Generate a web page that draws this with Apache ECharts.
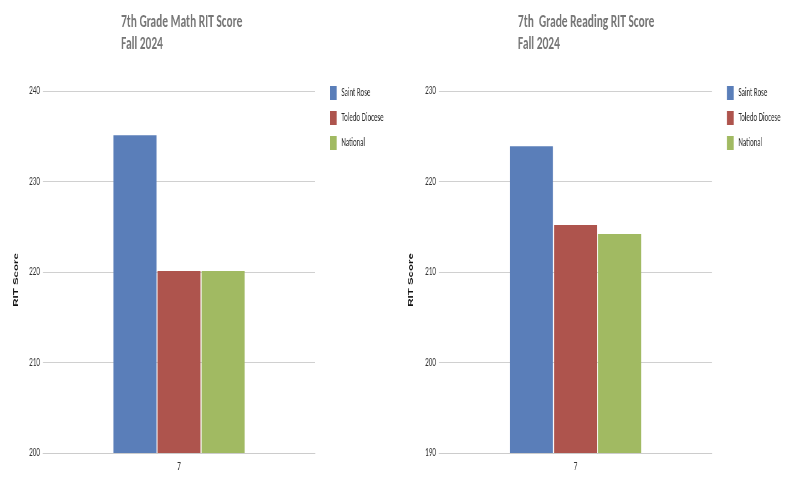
<!DOCTYPE html>
<html>
<head>
<meta charset="utf-8">
<script src="https://cdn.jsdelivr.net/npm/echarts@6/dist/echarts.min.js"></script>
<style>
html,body{margin:0;padding:0;background:#fff;overflow:hidden;}
#wrap{width:790px;height:483px;overflow:hidden;position:relative;}
#c{width:1317px;height:483px;transform:scaleX(0.6);transform-origin:0 0;position:absolute;left:0;top:0;}
</style>
</head>
<body>
<div id="wrap"><div id="c"></div></div>
<script>
var categories = ['7'];
var seriesNames = ['Saint Rose', 'Toledo Diocese', 'National'];
var mathValues = [235.1, 220.1, 220.1];
var readingValues = [223.9, 215.2, 214.2];
var mathTicks = [200, 210, 220, 230, 240];
var readingTicks = [190, 200, 210, 220, 230];
var colors = ['#5a7eb9', '#ae544d', '#a1ba62'];
var FONT = 'Carlito, "Open Sans Condensed", sans-serif';

var chart = echarts.init(document.getElementById('c'));
function yAxis(idx, ticks, gap) {
  return {
    type: 'value', gridIndex: idx,
    min: ticks[0], max: ticks[ticks.length - 1], interval: ticks[1] - ticks[0],
    name: 'RIT Score', nameLocation: 'middle', nameGap: gap,
    nameTextStyle: { fontFamily: '"Liberation Sans", Arial, sans-serif', fontWeight: 'bold', fontSize: 11.5, color: '#111', padding: [0, 16, 0, 0] },
    axisLine: { show: false }, axisTick: { show: false },
    axisLabel: { margin: 5, fontFamily: FONT, fontSize: 12, color: '#333' },
    splitLine: { lineStyle: { color: '#d0d0d0', width: 1 } }
  };
}
function xAxis(idx) {
  return {
    type: 'category', gridIndex: idx, data: categories,
    axisLine: { lineStyle: { color: '#cccccc' } }, axisTick: { show: false },
    axisLabel: { margin: 8, fontFamily: FONT, fontSize: 12, color: '#333' }
  };
}
function legend(left) {
  return {
    orient: 'vertical', left: left, top: 81, icon: 'rect', itemWidth: 11, itemHeight: 14,
    itemGap: 11, data: seriesNames, selectedMode: false,
    textStyle: { fontFamily: FONT, fontSize: 11.5, color: '#2a2a2a', padding: [0, 0, 0, 3] }
  };
}
var series = [];
seriesNames.forEach(function (n, i) {
  series.push({ name: n, type: 'bar', xAxisIndex: 0, yAxisIndex: 0, data: [mathValues[i]], barWidth: 71.7, barGap: '2.4%', itemStyle: { color: colors[i] } });
});
seriesNames.forEach(function (n, i) {
  series.push({ name: n, type: 'bar', xAxisIndex: 1, yAxisIndex: 1, data: [readingValues[i]], barWidth: 71.7, barGap: '2.4%', itemStyle: { color: colors[i] } });
});
var titleStyle = { fontFamily: FONT, fontSize: 19, fontWeight: 'bold', color: '#767676', lineHeight: 22 };
chart.setOption({
  animation: false,
  color: colors,
  title: [
    { text: '7th Grade Math RIT Score\nFall 2024', left: 201.7, top: 11, padding: 0, textStyle: titleStyle },
    { text: '7th  Grade Reading RIT Score\nFall 2024', left: 863.3, top: 11, padding: 0, textStyle: titleStyle }
  ],
  legend: [legend(545), legend(1206.7)],
  grid: [
    { left: 71.7, right: 1317 - 525, top: 91, bottom: 30 },
    { left: 731.7, right: 1317 - 1186.7, top: 91, bottom: 30 }
  ],
  xAxis: [xAxis(0), xAxis(1)],
  yAxis: [yAxis(0, mathTicks, 39), yAxis(1, readingTicks, 41)],
  series: series
});
</script>
</body>
</html>
